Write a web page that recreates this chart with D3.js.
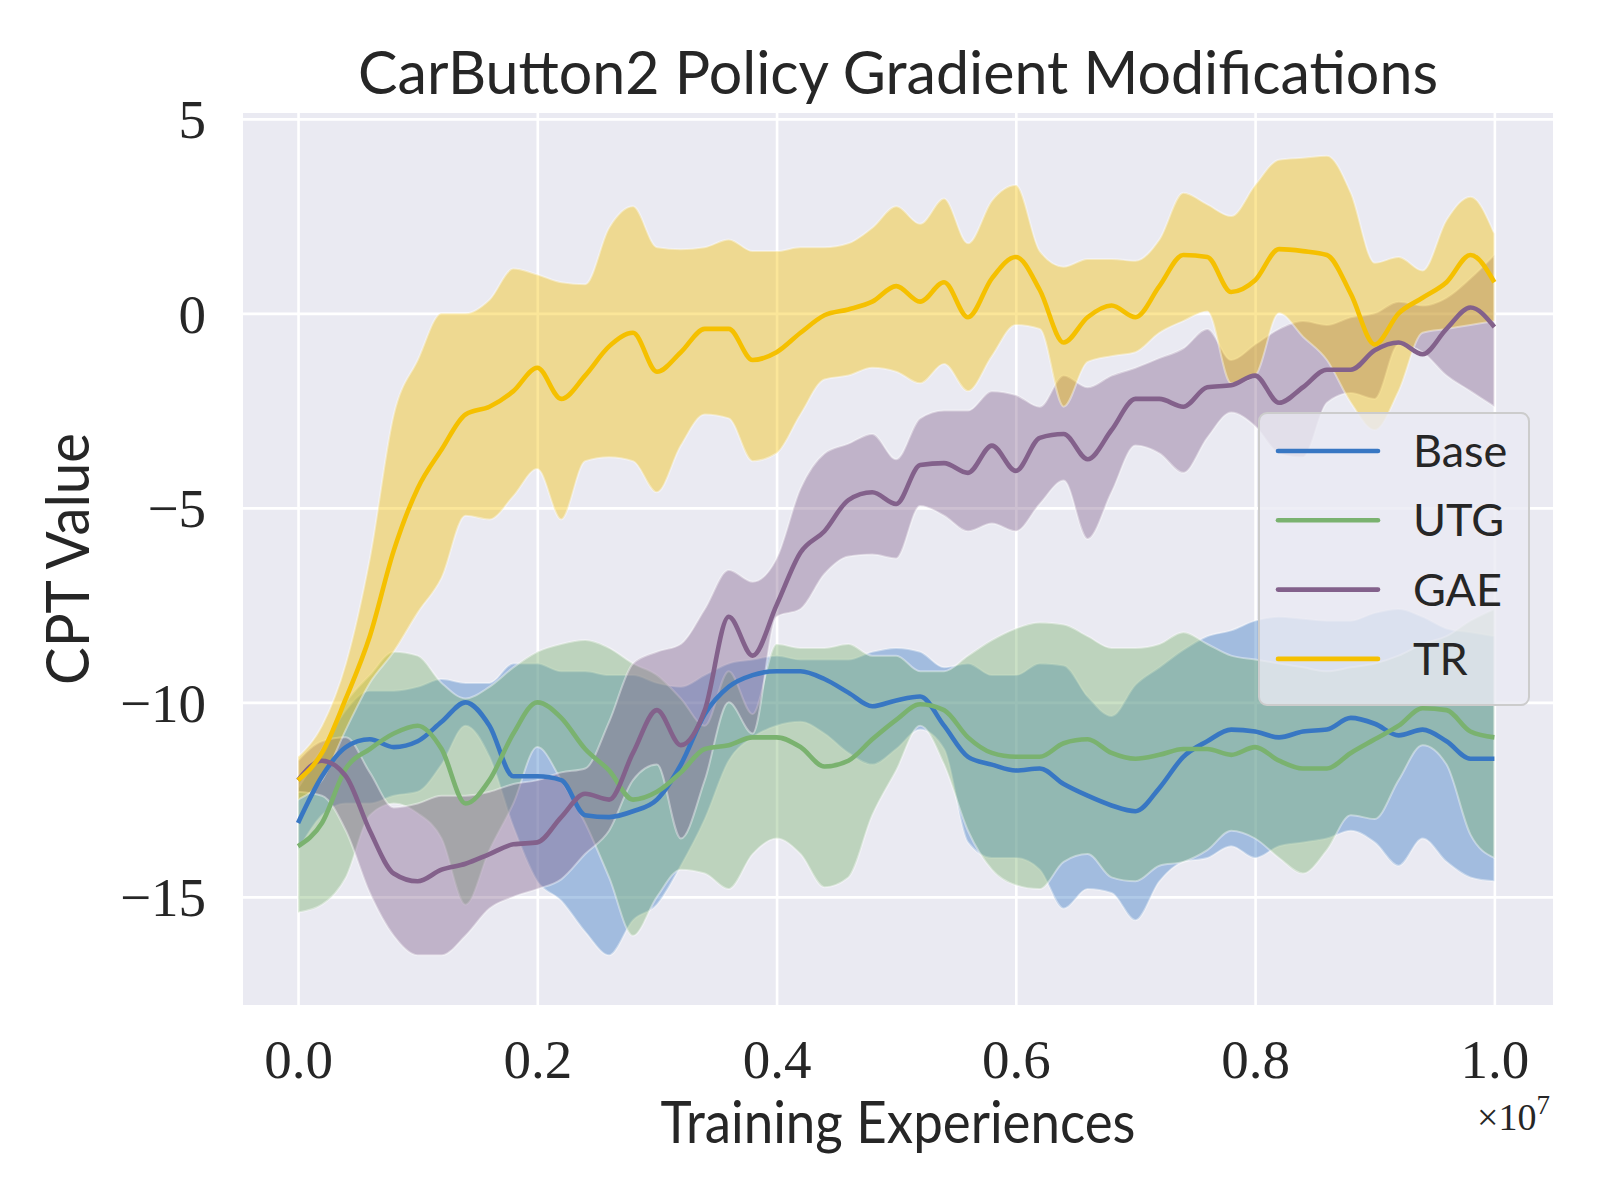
<!DOCTYPE html>
<html>
<head>
<meta charset="utf-8">
<script src="https://cdn.jsdelivr.net/npm/d3@7"></script>
<style>
  body { margin: 0; background: #ffffff; }
</style>
</head>
<body>
<div id="chart"></div>
<script>
// training experiences (x 1e7), sampled every 0.02
const steps = [0.00,0.02,0.04,0.06,0.08,0.10,0.12,0.14,0.16,0.18,
  0.20,0.22,0.24,0.26,0.28,0.30,0.32,0.34,0.36,0.38,
  0.40,0.42,0.44,0.46,0.48,0.50,0.52,0.54,0.56,0.58,
  0.60,0.62,0.64,0.66,0.68,0.70,0.72,0.74,0.76,0.78,
  0.80,0.82,0.84,0.86,0.88,0.90,0.92,0.94,0.96,0.98,1.00];

// Base
const baseMean = [-13.1,-11.9,-11.15,-10.95,-11.15,-11.0,-10.5,-10.0,-10.6,-11.9,
  -11.9,-12.0,-12.9,-12.95,-12.8,-12.5,-11.6,-10.3,-9.6,-9.3,
  -9.2,-9.2,-9.4,-9.75,-10.1,-9.95,-9.85,-10.6,-11.4,-11.6,
  -11.75,-11.7,-12.1,-12.4,-12.65,-12.8,-12.2,-11.4,-11.0,-10.7,
  -10.75,-10.9,-10.75,-10.7,-10.4,-10.55,-10.85,-10.7,-11.0,-11.45,-11.45];
const baseUpper = [-12.0,-11.2,-10.2,-9.7,-9.7,-9.6,-9.4,-9.5,-9.5,-9.0,
  -9.0,-9.2,-9.2,-9.3,-9.3,-9.5,-9.6,-9.3,-9.0,-8.9,
  -8.8,-8.9,-8.9,-8.9,-8.7,-8.6,-8.7,-9.1,-9.0,-9.3,
  -9.3,-9.0,-9.05,-9.85,-10.35,-9.55,-9.1,-8.65,-8.3,-8.15,
  -7.9,-7.8,-7.85,-7.9,-7.9,-7.7,-7.6,-7.8,-8.1,-8.2,-8.3];
const baseLower = [-13.8,-12.9,-12.6,-12.6,-12.4,-12.3,-11.6,-10.6,-11.4,-13.2,
  -14.6,-15.1,-15.9,-16.5,-15.6,-15.2,-14.2,-13.0,-11.5,-10.9,
  -10.6,-10.5,-10.8,-11.3,-11.6,-11.2,-10.7,-11.2,-13.6,-14.0,
  -14.0,-14.3,-15.3,-14.8,-14.9,-15.6,-14.6,-14.1,-14.0,-13.7,
  -14.0,-13.7,-13.6,-13.5,-13.3,-13.6,-14.2,-13.5,-14.1,-14.5,-14.6];

// UTG
const utgMean = [-13.7,-13.1,-11.7,-11.2,-10.8,-10.6,-11.2,-12.6,-12.0,-10.8,
  -10.0,-10.4,-11.2,-11.75,-12.5,-12.3,-11.8,-11.2,-11.1,-10.9,
  -10.9,-11.15,-11.65,-11.5,-10.95,-10.45,-10.05,-10.2,-10.9,-11.3,
  -11.4,-11.4,-11.05,-10.95,-11.3,-11.45,-11.35,-11.2,-11.2,-11.35,
  -11.15,-11.5,-11.7,-11.7,-11.3,-10.95,-10.6,-10.15,-10.2,-10.75,-10.9];
const utgUpper = [-12.2,-11.2,-10.0,-9.3,-8.7,-8.8,-9.5,-9.9,-9.6,-9.1,
  -8.7,-8.5,-8.4,-8.6,-9.0,-9.3,-9.9,-10.6,-9.2,-10.3,
  -8.5,-8.6,-8.6,-8.5,-8.8,-8.8,-9.2,-9.2,-8.8,-8.4,
  -8.1,-7.95,-8.0,-8.3,-8.6,-8.6,-8.5,-8.2,-8.5,-8.8,
  -8.9,-9.0,-9.1,-9.2,-9.1,-9.0,-8.8,-8.5,-8.3,-7.9,-7.6];
const utgLower = [-15.4,-15.2,-14.5,-12.9,-12.6,-12.85,-13.5,-15.2,-13.8,-12.6,
  -11.15,-12.0,-13.1,-14.5,-16.0,-15.0,-14.3,-14.4,-14.8,-13.9,
  -13.5,-13.9,-14.75,-14.5,-12.9,-11.75,-10.6,-11.6,-13.3,-14.3,
  -14.7,-14.8,-14.1,-13.9,-14.5,-14.6,-14.2,-14.1,-13.8,-13.3,
  -13.5,-14.0,-14.4,-13.8,-12.9,-13.0,-12.0,-11.1,-11.6,-13.4,-14.0];

// GAE
const gaeMean = [-12.0,-11.5,-11.9,-13.3,-14.4,-14.6,-14.3,-14.15,-13.9,-13.65,
  -13.6,-12.95,-12.35,-12.5,-11.3,-10.2,-11.1,-10.2,-7.8,-8.8,
  -7.5,-6.15,-5.6,-4.8,-4.6,-4.9,-3.9,-3.85,-4.1,-3.4,
  -4.05,-3.2,-3.1,-3.75,-3.0,-2.2,-2.2,-2.4,-1.9,-1.85,
  -1.6,-2.3,-1.9,-1.45,-1.45,-0.95,-0.75,-1.05,-0.4,0.15,-0.35];
const gaeUpper = [-11.5,-11.0,-10.9,-11.8,-12.7,-12.6,-12.4,-12.4,-12.3,-12.1,
  -12.0,-11.8,-11.7,-10.5,-9.0,-8.7,-8.5,-7.6,-6.6,-6.9,
  -6.3,-4.5,-3.6,-3.35,-3.1,-3.75,-2.7,-2.5,-2.5,-2.0,
  -2.1,-2.4,-1.6,-1.9,-1.6,-1.4,-1.15,-0.9,-0.4,-1.2,
  -0.8,-0.4,-0.2,-0.3,-0.1,0.0,0.3,0.2,0.4,0.9,1.5];
const gaeLower = [-12.3,-12.4,-13.3,-14.9,-16.0,-16.5,-16.5,-16.0,-15.3,-15.0,
  -14.8,-14.55,-13.9,-13.3,-12.0,-11.6,-13.5,-12.0,-10.0,-10.8,
  -7.8,-7.6,-6.7,-6.25,-6.2,-6.3,-4.95,-5.2,-5.6,-5.4,
  -5.6,-4.9,-4.3,-5.8,-4.6,-3.4,-3.6,-4.1,-3.2,-2.55,
  -2.9,-3.6,-3.7,-2.3,-2.05,-2.2,-0.8,-1.0,-1.6,-2.0,-2.4];

// TR
const trMean = [-12.0,-11.3,-9.9,-8.3,-6.1,-4.5,-3.5,-2.6,-2.4,-2.0,
  -1.4,-2.2,-1.6,-0.85,-0.5,-1.5,-1.0,-0.4,-0.4,-1.2,
  -1.0,-0.5,-0.05,0.1,0.3,0.7,0.3,0.8,-0.1,0.9,
  1.45,0.6,-0.75,-0.1,0.2,-0.1,0.7,1.5,1.45,0.55,
  0.85,1.65,1.6,1.5,0.5,-0.8,0.0,0.4,0.8,1.5,0.8];
const trUpper = [-11.4,-10.6,-9.0,-6.3,-2.6,-1.2,0.0,0.0,0.35,1.15,
  1.0,0.8,0.75,2.2,2.75,1.7,1.65,1.7,1.9,1.6,
  1.6,1.7,1.7,1.8,2.2,2.75,2.3,2.95,1.8,2.9,
  3.3,1.6,1.2,1.4,1.4,1.35,1.9,3.1,2.8,2.5,
  3.3,3.95,4.0,4.05,3.1,1.3,1.45,1.1,2.4,3.0,2.05];
const trLower = [-12.5,-12.0,-10.7,-9.5,-8.7,-7.7,-6.8,-5.2,-5.3,-4.7,
  -4.0,-5.3,-3.8,-3.7,-3.8,-4.6,-3.4,-2.6,-2.7,-3.8,
  -3.6,-2.6,-1.7,-1.6,-1.4,-1.5,-1.8,-1.3,-2.0,-1.1,
  -0.3,-0.4,-2.4,-1.25,-1.1,-1.0,-0.5,-0.2,0.05,-1.8,
  -1.6,0.0,-0.6,-1.2,-2.3,-3.0,-2.0,-0.5,-0.4,-0.3,-0.2];

const names = ["Base", "UTG", "GAE", "TR"];
const colors = ["#3877c3", "#7ab26f", "#83618b", "#f5c000"];
const xTicks = [0, 0.2, 0.4, 0.6, 0.8, 1.0];
const yTicks = [5, 0, -5, -10, -15];

const series = [
  {name: names[0], mean: baseMean, lo: baseLower, hi: baseUpper},
  {name: names[1], mean: utgMean, lo: utgLower, hi: utgUpper},
  {name: names[2], mean: gaeMean, lo: gaeLower, hi: gaeUpper},
  {name: names[3], mean: trMean, lo: trLower, hi: trUpper}
];

const width = 1600, height = 1200;
const plot = {left: 243, right: 1553, top: 113, bottom: 1005};
const plotW = plot.right - plot.left, plotH = plot.bottom - plot.top;

const sans = "Lato, 'Open Sans', sans-serif";
const serif = "'Liberation Serif', 'DejaVu Serif', serif";
const ink = "#262626";

const svg = d3.select("#chart")
  .append("svg")
  .attr("width", width)
  .attr("height", height);

const x = d3.scaleLinear().domain([-0.046, 1.049]).range([plot.left, plot.right]);
const y = d3.scaleLinear().domain([-17.78, 5.15]).range([plot.bottom, plot.top]);

// axes background
svg.append("rect")
  .attr("x", plot.left).attr("y", plot.top)
  .attr("width", plotW).attr("height", plotH)
  .attr("fill", "#eaeaf2");

// X axis + vertical grid
const xAxis = svg.append("g")
  .attr("transform", `translate(0, ${plot.bottom})`)
  .call(d3.axisBottom(x).tickValues(xTicks).tickFormat(d3.format(".1f"))
    .tickSize(-plotH).tickPadding(34));

// Y axis + horizontal grid
const minus = d => d < 0 ? "\u2212" + Math.abs(d) : String(d);
const yAxis = svg.append("g")
  .attr("transform", `translate(${plot.left}, 0)`)
  .call(d3.axisLeft(y).tickValues(yTicks).tickFormat(minus)
    .tickSize(-plotW).tickPadding(37));

[xAxis, yAxis].forEach(a => {
  a.select(".domain").remove();
  a.selectAll(".tick line").attr("stroke", "#ffffff").attr("stroke-width", 2.6);
  a.selectAll(".tick text")
    .attr("fill", ink)
    .style("font-family", serif)
    .style("font-size", "55px");
});
yAxis.selectAll(".tick text").attr("dy", "0.34em");

// bands (drawn below all lines, like matplotlib zorder)
const band = s => d3.area()
  .x((d, i) => x(steps[i]))
  .y0((d, i) => y(s.lo[i]))
  .y1((d, i) => y(s.hi[i]))
  .curve(d3.curveMonotoneX)(steps);

svg.append("g")
  .selectAll("path")
  .data(series)
  .join("path")
  .attr("d", band)
  .attr("fill", (d, i) => colors[i])
  .attr("fill-opacity", 0.4)
  .attr("stroke", "#ffffff")
  .attr("stroke-opacity", 0.4)
  .attr("stroke-width", 2);

// mean lines
const line = s => d3.line()
  .x((d, i) => x(steps[i]))
  .y((d, i) => y(s.mean[i]))
  .curve(d3.curveMonotoneX)(steps);

svg.append("g")
  .selectAll("path")
  .data(series)
  .join("path")
  .attr("d", line)
  .attr("fill", "none")
  .attr("stroke", (d, i) => colors[i])
  .attr("stroke-width", 4.6)
  .attr("stroke-linejoin", "round");

// texts
const fitText = (sel, w) => sel.attr("textLength", w).attr("lengthAdjust", "spacingAndGlyphs");

svg.append("text")
  .attr("x", (plot.left + plot.right) / 2)
  .attr("y", 94)
  .attr("text-anchor", "middle")
  .attr("fill", ink)
  .style("font-family", sans)
  .style("font-size", "60px")
  .text("CarButton2 Policy Gradient Modifications")
  .call(fitText, 1080);

svg.append("text")
  .attr("x", (plot.left + plot.right) / 2)
  .attr("y", 1143)
  .attr("text-anchor", "middle")
  .attr("fill", ink)
  .style("font-family", sans)
  .style("font-size", "58px")
  .text("Training Experiences")
  .call(fitText, 475);

svg.append("text")
  .attr("transform", `translate(89, ${(plot.top + plot.bottom) / 2}) rotate(-90)`)
  .attr("text-anchor", "middle")
  .attr("fill", ink)
  .style("font-family", sans)
  .style("font-size", "60px")
  .text("CPT Value")
  .call(fitText, 252);

// offset label
const off = svg.append("text")
  .attr("x", 1550)
  .attr("y", 1130)
  .attr("text-anchor", "end")
  .attr("fill", ink)
  .style("font-family", serif)
  .style("font-size", "38px");
off.append("tspan").text("\u00d710");
off.append("tspan").attr("dy", -16).style("font-size", "27px").text("7");

// legend
const legend = svg.append("g");
legend.append("rect")
  .attr("x", 1259).attr("y", 413)
  .attr("width", 270).attr("height", 292)
  .attr("rx", 8)
  .attr("fill", "#eaeaf2").attr("fill-opacity", 0.8)
  .attr("stroke", "#cccccc").attr("stroke-width", 2);

const rowY = i => 451 + i * 69.3;
legend.selectAll("line")
  .data(names)
  .join("line")
  .attr("x1", 1278).attr("x2", 1378)
  .attr("y1", (d, i) => rowY(i)).attr("y2", (d, i) => rowY(i))
  .attr("stroke", (d, i) => colors[i])
  .attr("stroke-width", 4.6)
  .attr("stroke-linecap", "round");

legend.selectAll("text")
  .data(names)
  .join("text")
  .attr("x", 1413)
  .attr("y", (d, i) => rowY(i) + 16)
  .attr("fill", ink)
  .style("font-family", sans)
  .style("font-size", "45px")
  .text(d => d);
</script>
</body>
</html>
